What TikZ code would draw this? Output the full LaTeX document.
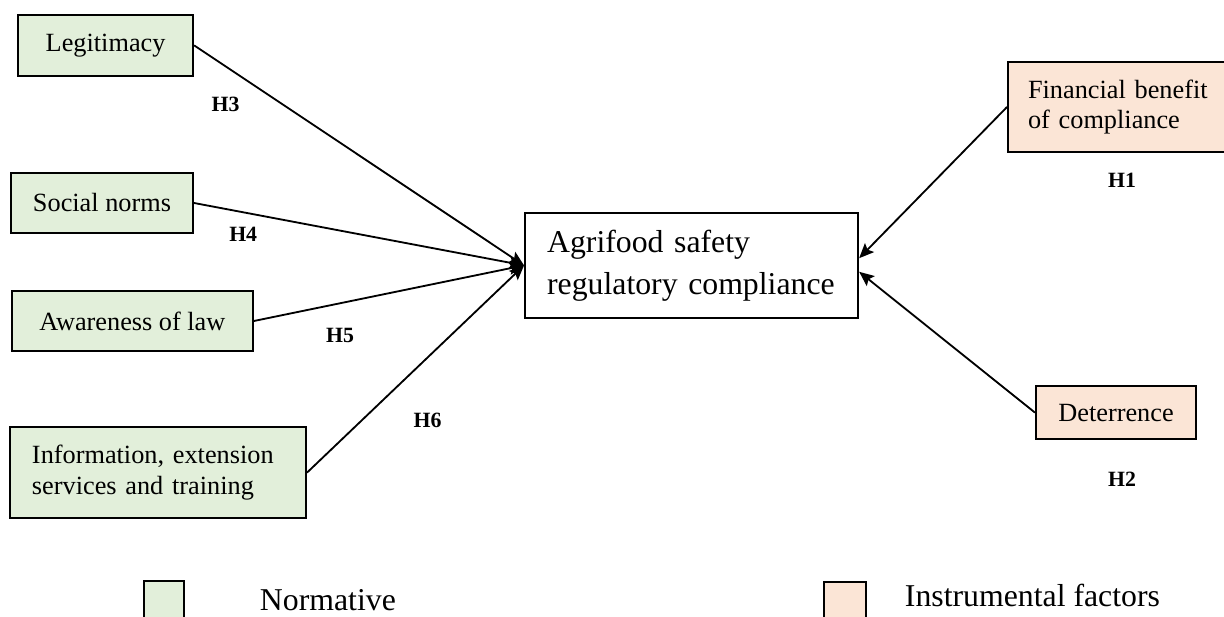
\documentclass[tikz,border=0pt]{standalone}
\usepackage{fontspec}
\setmainfont{Liberation Serif}
\usetikzlibrary{arrows.meta,positioning}
\definecolor{normative}{HTML}{E2EFDA}
\definecolor{instrumental}{HTML}{FBE5D6}

\begin{document}
\begin{tikzpicture}[
  factor/.style={draw, line width=1.5pt, align=center, inner sep=0pt, font=\fontsize{18.7}{21.5}\selectfont},
  hyp/.style={font=\fontsize{15.5}{18}\selectfont\bfseries},
  arr/.style={line width=1.3pt, -{Stealth[length=10.5pt, width=9pt, inset=2pt]}},
  key/.style={anchor=base west, font=\fontsize{22.6}{27}\selectfont}
]
  \clip (0, 0) rectangle (30.6, 15.425);

  % Outcome
  \node[factor, align=left, text width=7.225cm, inner xsep=0.55cm, minimum height=2.625cm,
        font=\fontsize{22.6}{30}\selectfont] (agri) at (17.29, 8.79) {Agrifood safety\\regulatory compliance};

  % Normative factors
  \node[factor, fill=normative, minimum width=4.375cm, minimum height=1.525cm] (legit) at (2.64, 14.29) {Legitimacy};
  \node[factor, fill=normative, minimum width=4.55cm, minimum height=1.5cm] (social) at (2.55, 10.35) {Social norms};
  \node[factor, fill=normative, minimum width=6.025cm, minimum height=1.5cm] (aware) at (3.31, 7.4) {Awareness of law};
  \node[factor, fill=normative, align=left, text width=6.3cm, inner xsep=0.55cm, minimum height=2.275cm] (info) at (3.95, 3.61)
    {Information, extension\\services and training};

  % Instrumental factors
  \node[factor, fill=instrumental, align=left, text width=4.5cm, inner xsep=0.5cm, minimum height=2.25cm, anchor=west] (finance) at (25.175, 12.75)
    {Financial benefit\\of compliance};
  \node[factor, fill=instrumental, minimum width=4.0cm, minimum height=1.325cm] (deter) at (27.9, 5.11) {Deterrence};

  % Paths
  \draw[arr] (legit.east) -- (agri.west);
  \draw[arr] (social.east) -- (agri.west);
  \draw[arr] (aware.east) -- (agri.west);
  \draw[arr] (info.east) -- (agri.west);
  \draw[arr] (finance.west) -- ([yshift=0.18cm]agri.east);
  \draw[arr] (deter.west) -- ([yshift=-0.16cm]agri.east);

  % Hypotheses
  \node[hyp] (h3) at (5.64, 12.81) {H3};
  \node[hyp] (h4) at (6.08, 9.56) {H4};
  \node[hyp] (h5) at (8.5, 7.05) {H5};
  \node[hyp] (h6) at (10.69, 4.91) {H6};
  \node[hyp] (h1) at (28.05, 10.91) {H1};
  \node[hyp] (h2) at (28.05, 3.45) {H2};

  % Legend
  \node[draw, line width=1.5pt, fill=normative, inner sep=0pt, minimum width=1cm, minimum height=1.2cm, anchor=north west] (normkey) at (3.575, 0.925) {};
  \node[key] (normtext) at (6.375, 0.16) {Normative};
  \node[draw, line width=1.5pt, fill=instrumental, inner sep=0pt, minimum width=1.05cm, minimum height=1.2cm, anchor=north west] (instkey) at (20.575, 0.9) {};
  \node[key] (insttext) at (22.5, 0.25) {Instrumental factors};
\end{tikzpicture}
\end{document}
